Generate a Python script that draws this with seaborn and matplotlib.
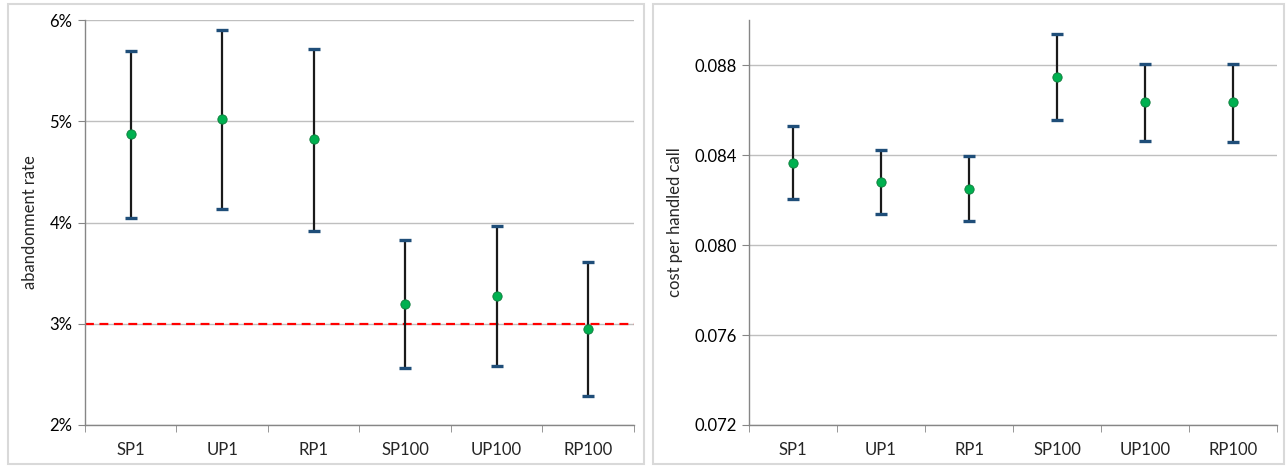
import seaborn as sns
import pandas as pd
import matplotlib.pyplot as plt
import matplotlib
import numpy as np
from matplotlib.ticker import PercentFormatter, FixedLocator
from matplotlib.patches import Rectangle

sns.set_style('white')
plt.rcParams['font.family'] = ['Lato', 'DejaVu Sans']
plt.rcParams['font.size'] = 12

policies = ['SP1', 'UP1', 'RP1', 'SP100', 'UP100', 'RP100']

# abandonment rate (fraction): mean and interval ends
aband_mean = [0.0487, 0.0502, 0.0482, 0.0320, 0.0327, 0.0295]
aband_low = [0.0404, 0.0413, 0.0392, 0.0256, 0.0258, 0.0229]
aband_high = [0.0569, 0.0590, 0.0571, 0.0383, 0.0397, 0.0361]
aband_target = 0.03

# cost per handled call: mean and interval ends
cost_mean = [0.08365, 0.08281, 0.08250, 0.08747, 0.08635, 0.08635]
cost_low = [0.08204, 0.08139, 0.08106, 0.08556, 0.08463, 0.08460]
cost_high = [0.08528, 0.08423, 0.08397, 0.08939, 0.08806, 0.08806]

line_col = '#1a1a1a'
cap_col = '#1F4E79'
dot_col = '#00B050'
grid_col = '#BFBFBF'
axis_col = '#868686'


def draw_panel(ax, mean, low, high, ylabel):
    df = pd.DataFrame({'policy': policies, 'mean': mean, 'low': low, 'high': high})
    err = [df['mean'] - df['low'], df['high'] - df['mean']]
    eb = ax.errorbar(df['policy'], df['mean'], yerr=err, fmt='none',
                     ecolor=line_col, elinewidth=1.6, capsize=4.2, capthick=2.4, zorder=3)
    for c in eb[1]:
        c.set_markeredgecolor(cap_col)
        c.set_markerfacecolor(cap_col)
    sns.scatterplot(data=df, x='policy', y='mean', ax=ax, s=45, color=dot_col,
                    edgecolor='#0E7A3A', linewidth=0.6, zorder=4, legend=False)
    ax.set_xlim(-0.5, len(policies) - 0.5)
    ax.set_xlabel('')
    ax.set_ylabel(ylabel, fontsize=12, labelpad=8)
    ax.yaxis.grid(True, color=grid_col, linewidth=1.0)
    ax.set_axisbelow(True)
    for s in ['top', 'right']:
        ax.spines[s].set_visible(False)
    for s in ['left', 'bottom']:
        ax.spines[s].set_color(axis_col)
        ax.spines[s].set_linewidth(1.0)
    ax.tick_params(axis='y', which='major', direction='out', length=5, color=axis_col,
                   left=True, labelsize=12, colors='#000000', pad=4)
    ax.tick_params(axis='x', which='major', length=0, labelsize=12, pad=12)
    ax.xaxis.set_minor_locator(FixedLocator(np.arange(-0.5, len(policies), 1.0)))
    ax.tick_params(axis='x', which='minor', direction='out', length=5, color=axis_col, bottom=True)


fig = plt.figure(figsize=(12.88, 4.66), dpi=100)
ax1 = fig.add_axes([0.066, 0.088, 0.426, 0.869])
ax2 = fig.add_axes([0.5815, 0.088, 0.410, 0.869])

draw_panel(ax1, aband_mean, aband_low, aband_high, 'abandonment rate')
ax1.set_ylim(0.02, 0.06)
ax1.set_yticks([0.02, 0.03, 0.04, 0.05, 0.06])
ax1.yaxis.set_major_formatter(PercentFormatter(xmax=1, decimals=0))
ax1.axhline(aband_target, color='#FF0000', linestyle=(0, (4, 2.5)), linewidth=1.6, zorder=2)

draw_panel(ax2, cost_mean, cost_low, cost_high, 'cost per handled call')
ax2.set_ylim(0.072, 0.090)
ax2.set_yticks([0.072, 0.076, 0.080, 0.084, 0.088])
ax2.set_yticklabels(['0.072', '0.076', '0.080', '0.084', '0.088'])

# chart-area borders
for x0, w in [(0.006, 0.494), (0.507, 0.490)]:
    fig.add_artist(Rectangle((x0, 0.004), w, 0.988, transform=fig.transFigure,
                             fill=False, edgecolor='#D9D9D9', linewidth=1.5))

plt.savefig('out.png', dpi=100)
